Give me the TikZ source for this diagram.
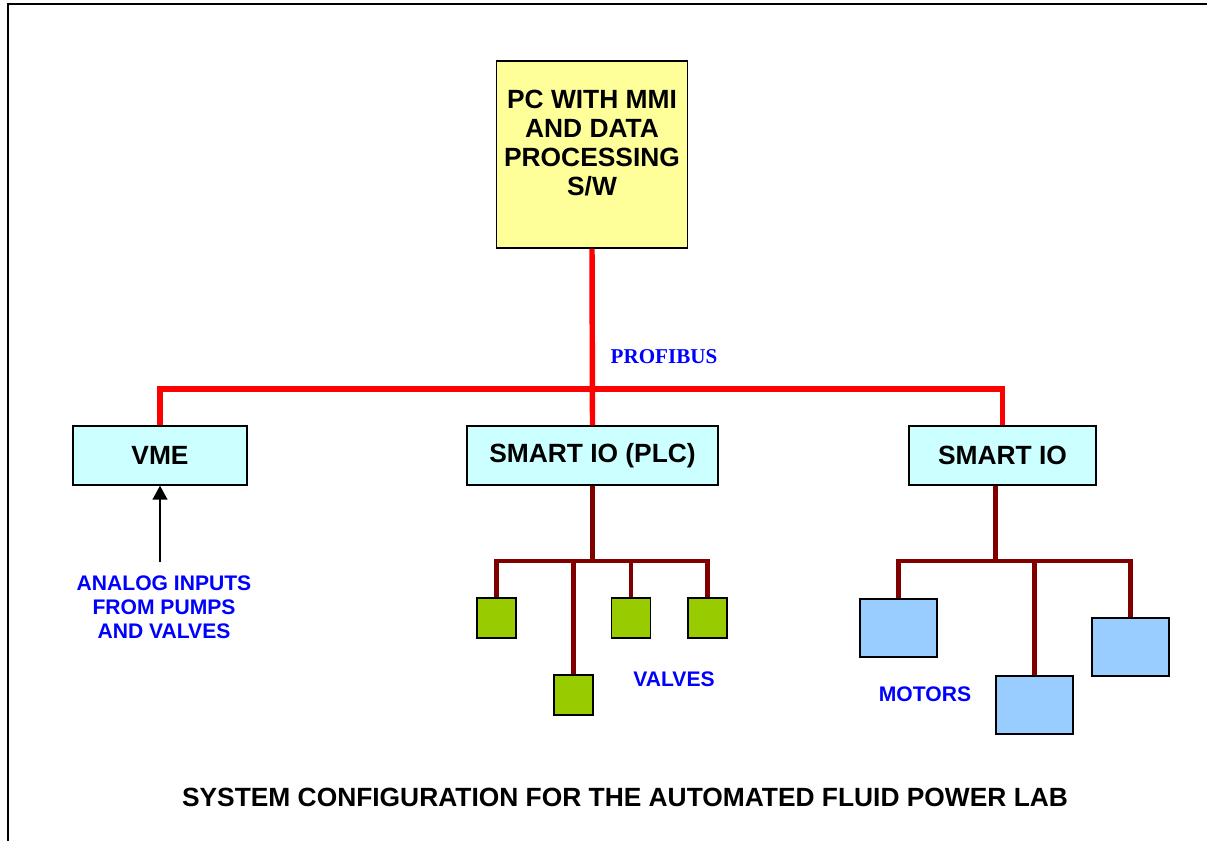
\documentclass[tikz,border=0pt]{standalone}
\usepackage{fontspec}
\setmainfont{Liberation Sans}
\newfontfamily\busfont{Liberation Serif}
\usepackage{xcolor}
\definecolor{pcyellow}{HTML}{FFFF99}
\definecolor{iocyan}{HTML}{CCFFFF}
\definecolor{valvegreen}{HTML}{99CC00}
\definecolor{motorblue}{HTML}{99CCFF}
\definecolor{busred}{HTML}{FF0000}
\definecolor{linkmaroon}{HTML}{800000}
\definecolor{labelblue}{HTML}{0000FF}
\usetikzlibrary{positioning, calc, arrows.meta}

\begin{document}
\begin{tikzpicture}[thick,>=Stealth,
    unit/.style={draw, line width=1.1pt, minimum height=1.17cm, inner sep=0pt,
                 font=\fontsize{15}{16.5}\selectfont\bfseries},
    valve/.style={draw, line width=1.1pt, fill=valvegreen, inner sep=0pt,
                  minimum width=0.78cm, minimum height=0.8cm},
    motor/.style={draw, line width=1.1pt, fill=motorblue, inner sep=0pt,
                  minimum width=1.54cm, minimum height=1.16cm},
    profibus/.style={busred, line width=3.1pt},
    link/.style={linkmaroon, line width=2.3pt},
    note/.style={text=labelblue, font=\fontsize{12}{13.7}\selectfont\bfseries},
    buslabel/.style={text=labelblue, font=\busfont\fontsize{12}{14}\selectfont\bfseries},
    caption/.style={font=\fontsize{15}{18}\selectfont\bfseries},
    feed/.style={line width=0.85pt, -{Triangle[width=0.3cm,length=0.28cm]}}]

    \useasboundingbox (0,0) rectangle (24.14,16.82);

    % --- Frame: only the top and left edges are visible ---
    \draw[line width=1.2pt] (0.16,0) -- (0.16,16.74) -- (24.14,16.74);

    % --- PC on top (text sits in the upper part of the box) ---
    \node[unit, fill=pcyellow, minimum width=3.82cm, minimum height=3.74cm] (pc) at (11.84,13.73) {};
    \node[unit, draw=none, align=center] (pctext) at ([yshift=0.23cm]pc.center)
        {PC WITH MMI\\AND DATA\\PROCESSING\\S/W};

    % --- Units hanging on the bus ---
    \node[unit, fill=iocyan, minimum width=3.48cm] (vme) at (3.20,7.71) {VME};
    \node[unit, fill=iocyan, minimum width=5.02cm] (plc) at (11.85,7.71) {SMART IO (PLC)};
    \node[unit, fill=iocyan, minimum width=3.74cm] (sio) at (20.05,7.71) {SMART IO};

    % --- Profibus ---
    \coordinate (bus) at (11.84,9.04);
    \draw[profibus] (pc.south) -- (plc.north);
    \draw[profibus] (vme.north) |- (bus) -| (sio.north);
    \node[buslabel] (profibus) at (13.28,9.68) {PROFIBUS};

    % --- Valves below SMART IO (PLC) ---
    \node[valve] (v1) at (9.93,4.46) {};
    \node[valve] (v2) at (11.47,2.92) {};
    \node[valve] (v3) at (12.62,4.46) {};
    \node[valve] (v4) at (14.15,4.46) {};
    \coordinate (vhub) at (11.85,5.6);
    \draw[link] (plc.south) -- (vhub);
    \draw[link] (v1.north) |- (vhub) -| (v4.north);
    \draw[link] (v2.north) -- (v2.north |- vhub);
    \draw[link] (v3.north) -- (v3.north |- vhub);
    \node[note] (valves) at (13.48,3.24) {VALVES};

    % --- Motors below SMART IO ---
    \node[motor] (m1) at (17.97,4.26) {};
    \node[motor] (m2) at (20.69,2.72) {};
    \node[motor] (m3) at (22.61,3.88) {};
    \coordinate (mhub) at (19.91,5.6);
    \draw[link] (sio.south -| mhub) -- (mhub);
    \draw[link] (m1.north) |- (mhub) -| (m3.north);
    \draw[link] (m2.north) -- (m2.north |- mhub);
    \node[note] (motors) at (18.5,2.94) {MOTORS};

    % --- Analog inputs into VME ---
    \node[note, align=center] (analog) at (3.28,4.68) {ANALOG INPUTS\\FROM PUMPS\\AND VALVES};
    \draw[feed, shorten <=4pt] (vme.south |- analog.north) -- (vme.south);

    % --- Caption ---
    \node[caption] (title) at (12.5,0.88) {SYSTEM CONFIGURATION FOR THE AUTOMATED FLUID POWER LAB};

\end{tikzpicture}
\end{document}
